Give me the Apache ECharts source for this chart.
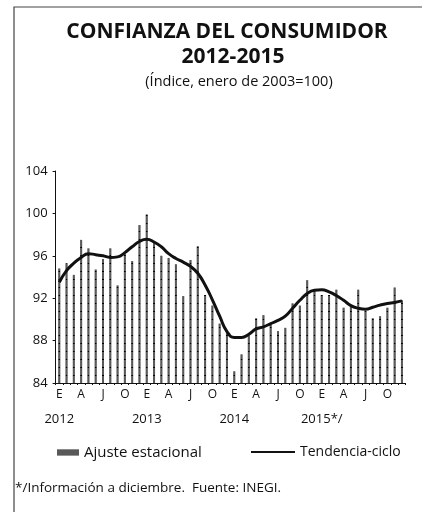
<!DOCTYPE html>
<html>
<head>
<meta charset="utf-8">
<script src="https://cdn.jsdelivr.net/npm/echarts@6/dist/echarts.min.js"></script>
<style>
  html, body { margin: 0; padding: 0; background: #fff; }
  #chart { width: 422px; height: 512px; }
</style>
</head>
<body>
<div id="chart"></div>
<script>
var chart = echarts.init(document.getElementById('chart'));

// months (E = enero ...), years
var monthLetters = ['E', 'F', 'M', 'A', 'M', 'J', 'J', 'A', 'S', 'O', 'N', 'D'];
var years = ['2012', '2013', '2014', '2015'];
var yearLabels = ['2012', '2013', '2014', '2015*/'];

// Ajuste estacional (bars)
var ajuste = [
    94.8, 95.3, 94.2, 97.5, 96.7, 94.7, 95.7, 96.7, 93.2, 96.2, 95.5, 98.9,
    99.9, 97.2, 96.0, 95.8, 95.2, 92.2, 95.6, 96.9, 92.3, 91.3, 89.6, 88.7,
    85.1, 86.7, 88.5, 90.1, 90.4, 89.5, 88.9, 89.2, 91.5, 91.3, 93.7, 92.8,
    92.3, 92.3, 92.8, 91.1, 91.3, 92.8, 90.8, 90.1, 90.3, 91.1, 93.0, 91.8
];
// Tendencia-ciclo (line)
var tendencia = [
    93.5, 94.6, 95.3, 95.85, 96.2, 96.1, 96.0, 95.85, 95.9, 96.3, 96.85, 97.35,
    97.55, 97.3, 96.85, 96.2, 95.75, 95.4, 95.0, 94.35, 93.25, 91.85, 90.3, 88.85,
    88.3, 88.3, 88.6, 89.1, 89.3, 89.6, 89.9, 90.3, 91.05, 91.8, 92.45, 92.75,
    92.8, 92.6, 92.25, 91.8, 91.3, 91.05, 90.95, 91.15, 91.35, 91.5, 91.6, 91.75
];
var yTicks = [84, 88, 92, 96, 100, 104];

var categories = [];
years.forEach(function (y) {
    monthLetters.forEach(function (m, i) {
        categories.push(m + '-' + y + '-' + i);
    });
});

var font = '"Open Sans", "Noto Sans", sans-serif';

var option = {
    backgroundColor: '#fff',
    textStyle: { fontFamily: font, color: '#111' },
    graphic: [
        {
            type: 'polyline',
            shape: { points: [[14, 512], [14, 7], [422, 7]] },
            style: { stroke: '#444', lineWidth: 1.2, fill: null }
        },
        {
            type: 'text', x: 227, y: 22,
            style: { text: 'CONFIANZA DEL CONSUMIDOR', fontFamily: font, fontWeight: 'bold',
                fontSize: 21, fill: '#111', textAlign: 'center' }
        },
        {
            type: 'text', x: 233, y: 47,
            style: { text: '2012-2015', fontFamily: font, fontWeight: 'bold',
                fontSize: 21, fill: '#111', textAlign: 'center' }
        },
        {
            type: 'text', x: 239, y: 74,
            style: { text: '(Índice, enero de 2003=100)', fontFamily: font,
                fontSize: 14.5, fill: '#111', textAlign: 'center' }
        },
        {
            type: 'text', x: 15, y: 481,
            style: { text: '*/Información a diciembre.  Fuente: INEGI.', fontFamily: font,
                fontSize: 13.5, fill: '#111' }
        }
    ],
    legend: [
        {
            data: [{ name: 'Ajuste estacional', icon: 'rect' }],
            left: 52, top: 440,
            itemWidth: 22, itemHeight: 6,
            textStyle: { fontFamily: font, fontSize: 15, color: '#111' }
        },
        {
            data: [{ name: 'Tendencia-ciclo', icon: 'rect' }],
            left: 246, top: 440,
            itemWidth: 44, itemHeight: 2,
            itemStyle: { color: '#111' },
            textStyle: { fontFamily: font, fontSize: 14, color: '#111' }
        }
    ],
    grid: { left: 55.6, right: 16.4, top: 171, bottom: 129 },
    xAxis: {
        type: 'category',
        data: categories,
        axisLine: { lineStyle: { color: '#111', width: 1 } },
        axisTick: { show: true, interval: 0, length: 2, lineStyle: { color: '#111' } },
        axisLabel: {
            interval: function (index) { return index % 3 === 0; },
            margin: 5,
            formatter: function (value, index) {
                var m = index % 12;
                var s = '{m|' + monthLetters[m] + '}';
                if (m === 0) s += '\n{y|' + yearLabels[Math.floor(index / 12)] + '}';
                return s;
            },
            rich: {
                m: { fontFamily: font, fontSize: 12, color: '#111', lineHeight: 14 },
                y: { fontFamily: font, fontSize: 13, color: '#111', lineHeight: 34 }
            }
        }
    },
    yAxis: {
        type: 'value',
        min: yTicks[0],
        max: yTicks[yTicks.length - 1],
        interval: 4,
        splitLine: { show: false },
        axisLine: { show: true, lineStyle: { color: '#111', width: 1 } },
        axisTick: { show: true, length: 3, lineStyle: { color: '#111' } },
        axisLabel: { fontFamily: font, fontSize: 13, color: '#111', margin: 8 }
    },
    series: [
        {
            name: 'Ajuste estacional',
            type: 'bar',
            data: ajuste,
            barWidth: 2,
            itemStyle: {
                color: '#000',
                decal: {
                    symbol: 'rect',
                    dashArrayX: [1, 0],
                    dashArrayY: [7, 1],
                    color: 'rgba(255,255,255,0.35)'
                }
            },
            animation: false
        },
        {
            name: 'Tendencia-ciclo',
            type: 'line',
            data: tendencia,
            smooth: true,
            symbol: 'none',
            lineStyle: { color: '#111', width: 3 },
            itemStyle: { color: '#111' },
            z: 5,
            animation: false
        }
    ]
};

chart.setOption(option);
window.onresize = chart.resize;
</script>
</body>
</html>
